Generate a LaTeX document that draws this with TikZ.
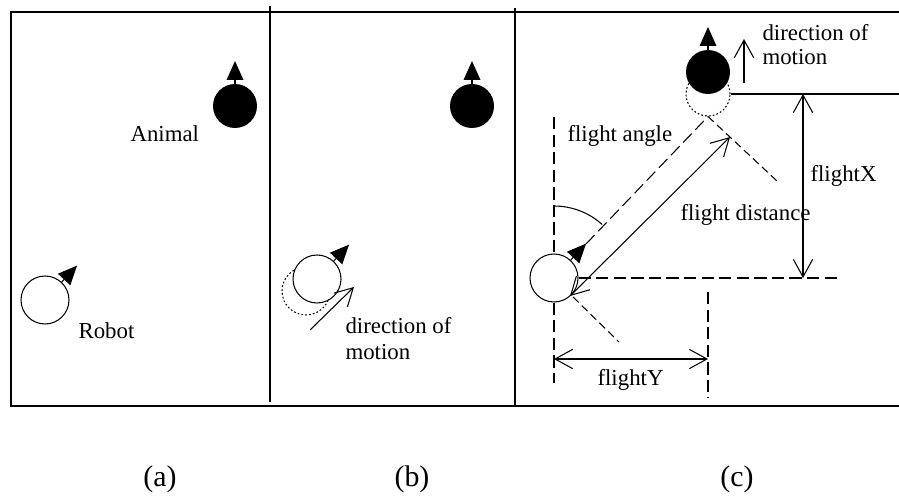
\documentclass[tikz,border=0pt]{standalone}
\usepackage{fontspec}
\setmainfont{Liberation Serif}
\usetikzlibrary{arrows.meta}

\begin{document}
\begin{tikzpicture}[x=0.02cm,y=0.02cm,line width=0.6pt,
    robot/.style={circle,draw,fill=white,inner sep=0pt,minimum size=0.96cm},
    animal/.style={circle,fill=black,inner sep=0pt,minimum size=0.88cm},
    fantasma/.style={circle,draw,dash pattern=on 1pt off 1.2pt,inner sep=0pt,minimum size=0.96cm},
    etiqueta/.style={anchor=base west,inner sep=0pt,font=\fontsize{13}{15}\selectfont},
    panel/.style={anchor=base,inner sep=0pt,font=\fontsize{17}{20}\selectfont},
    flecha/.style={-{Straight Barb[length=10pt,width=11pt]}},
    doble/.style={{Straight Barb[length=10pt,width=11pt]}-{Straight Barb[length=10pt,width=11pt]}},
    discontinua/.style={dash pattern=on 7pt off 3pt},
    corta/.style={dash pattern=on 4.5pt off 2.5pt},
    pics/rumbo/.style={code={
      \draw (#1,0) -- ({#1+4},0);
      \fill ({#1+4},-8.5) -- ({#1+23},0) -- ({#1+4},8.5) -- cycle;
    }}]
    % Márgenes de la figura
    \useasboundingbox (0,0) rectangle (899,-496);

    % Marco y separadores de los paneles
    \draw (899,-12) -- (11,-12) -- (11,-406) -- (899,-406);
    \draw (270,-6) -- (270,-402);
    \draw (515,-8) -- (515,-406);

    % Panel (a): robot y animal
    \node[robot] (robotA) at (45,-300) {};
    \pic[rotate=47] at (robotA) {rumbo=24};
    \node[animal] (animalA) at (235,-106) {};
    \pic[rotate=90] at (animalA) {rumbo=22};
    \node[etiqueta] (txtAnimal) at (130,-142) {Animal};
    \node[etiqueta] (txtRobot) at (78,-338) {Robot};

    % Panel (b): el robot avanza (posición previa punteada)
    \node[fantasma] (fantB) at (306,-291) {};
    \node[robot] (robotB) at (317,-279) {};
    \pic[rotate=47] at (robotB) {rumbo=24};
    \node[animal] (animalB) at (472,-106) {};
    \pic[rotate=90] at (animalB) {rumbo=22};
    \coordinate (movB0) at (310,-330);
    \coordinate (movB1) at (354,-287);
    \draw[flecha] (movB0) -- (movB1);
    \node[etiqueta] (dirB1) at (345,-334) {direction of};
    \node[etiqueta] (dirB2) at (345,-359) {motion};

    % Panel (c): huida del animal
    \node[fantasma,minimum size=0.88cm] (fantC) at (708,-94) {};
    \node[animal] (animalC) at (708,-72) {};
    \pic[rotate=90] at (animalC) {rumbo=22};
    \coordinate (movC0) at (744,-83);
    \coordinate (movC1) at (744,-39);
    \draw[flecha] (movC0) -- (movC1);
    \node[etiqueta] (dirC1) at (762,-41) {direction of};
    \node[etiqueta] (dirC2) at (762,-65) {motion};

    % Robot del panel (c)
    \node[robot] (robotC) at (554,-278) {};
    \pic[rotate=47] at (robotC) {rumbo=24};

    % Cota flightX
    \coordinate (bordeC) at (899,-94);
    \draw (fantC.east) -- (bordeC);
    \coordinate (fx0) at (803,-94);
    \coordinate (fx1) at (803,-278);
    \draw[doble] (fx0) -- (fx1);
    \coordinate (hder) at (837,-278);
    \draw[discontinua] (robotC.east) -- (hder);
    \node[etiqueta] (txtFX) at (810,-182) {flightX};

    % Cota flightY
    \coordinate (vsup) at (554,-117);
    \coordinate (vinf) at (554,-383);
    \draw[discontinua] (vsup) -- (robotC.north);
    \draw[discontinua] (robotC.south) -- (vinf);
    \coordinate (fy0) at (708,-292);
    \coordinate (fy1) at (708,-398);
    \draw[discontinua] (fy0) -- (fy1);
    \coordinate (fyA) at (554,-359);
    \coordinate (fyB) at (708,-359);
    \draw[doble] (fyA) -- (fyB);
    \node[etiqueta] (txtFY) at (597,-385) {flightY};

    % Dirección de huida y ángulo
    \coordinate (puntaC) at (586,-244);
    \draw[discontinua] (puntaC) -- (fantC.south);
    \draw (robotC.center) ++(90:72) arc[start angle=90,end angle=48,radius=72];
    \node[etiqueta] (txtAng) at (567,-142) {flight angle};

    % Cota flight distance
    \coordinate (perpA) at (777,-181);
    \draw[corta] (fantC.south) -- (perpA);
    \coordinate (perpB0) at (573,-297);
    \coordinate (perpB1) at (619,-342);
    \draw[corta] (perpB0) -- (perpB1);
    \coordinate (fd0) at (570,-296);
    \coordinate (fd1) at (730,-137);
    \draw[doble] (fd0) -- (fd1);
    \node[etiqueta] (txtFD) at (680,-221) {flight distance};

    % Rótulos de los paneles
    \node[panel] (etqA) at (160,-486) {(a)};
    \node[panel] (etqB) at (412,-486) {(b)};
    \node[panel] (etqC) at (737,-486) {(c)};
\end{tikzpicture}
\end{document}
